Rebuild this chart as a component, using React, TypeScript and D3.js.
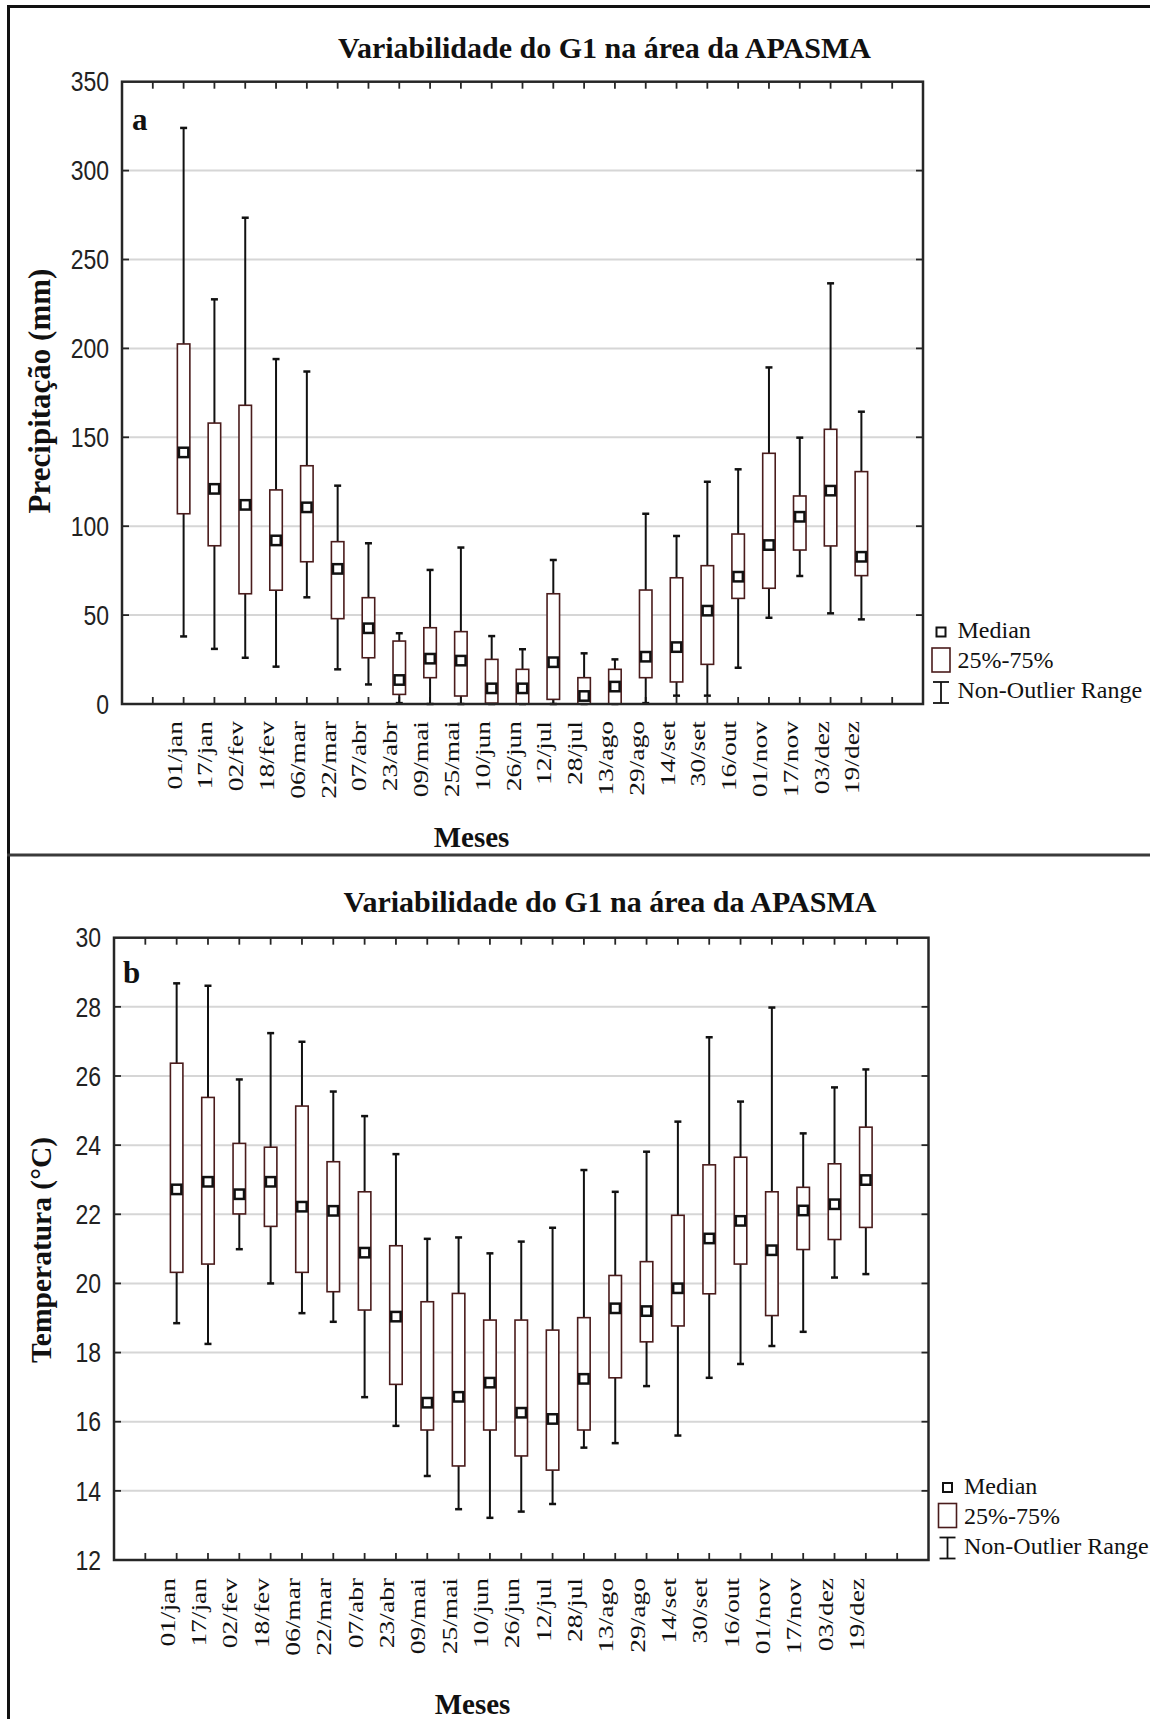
import React from "react";
import * as d3 from "d3";

const categories = ["01/jan","17/jan","02/fev","18/fev","06/mar","22/mar","07/abr","23/abr","09/mai","25/mai","10/jun","26/jun","12/jul","28/jul","13/ago","29/ago","14/set","30/set","16/out","01/nov","17/nov","03/dez","19/dez"];

// Panel a: precipitation (mm)
const precMin = [38, 31, 26, 21, 60, 19.5, 11, 0.5, 0, 0, 0, 0, 0, 0, 0, 0.5, 4.7, 4.7, 20.4, 48.5, 72, 51, 47.6];
const precQ1 = [107, 89, 62, 64, 80, 48, 26, 5.4, 14.8, 4.5, 0.5, 0, 2.6, 0, 0, 14.8, 12.4, 22.3, 59.4, 65.1, 86.6, 88.9, 72.2];
const precMedian = [141.5, 121, 112, 92, 110.6, 76, 42.6, 13.5, 25.5, 24.4, 8.8, 8.8, 23.5, 4.5, 9.8, 26.6, 32, 52.5, 71.6, 89.4, 105.3, 120, 82.8];
const precQ3 = [202.5, 158, 168, 120.4, 134, 91.3, 59.8, 35.4, 42.9, 40.7, 25.1, 19.5, 62, 14.8, 19.5, 64.1, 71, 77.8, 95.6, 141, 117, 154.5, 130.7];
const precMax = [324, 227.6, 273.5, 194, 187, 122.8, 90.4, 39.8, 75.4, 88, 38.2, 30.8, 81, 28.5, 25.1, 107, 94.5, 125, 132, 189.3, 149.8, 236.6, 164.4];
const precTicks = [0, 50, 100, 150, 200, 250, 300, 350];

// Panel b: temperature (°C)
const tempMin = [18.85, 18.25, 20.99, 20.0, 19.14, 18.89, 16.71, 15.88, 14.43, 13.47, 13.22, 13.4, 13.62, 15.25, 15.38, 17.03, 15.6, 17.27, 17.67, 18.19, 18.6, 20.17, 20.27];
const tempQ1 = [20.32, 20.56, 22.01, 21.65, 20.32, 19.76, 19.23, 17.08, 15.76, 14.72, 15.76, 15.01, 14.6, 15.76, 17.27, 18.31, 18.77, 19.7, 20.56, 19.07, 20.98, 21.27, 21.62];
const tempMedian = [22.72, 22.94, 22.58, 22.94, 22.22, 22.1, 20.89, 19.04, 16.55, 16.72, 17.13, 16.26, 16.08, 17.24, 19.28, 19.2, 19.86, 21.3, 21.81, 20.96, 22.11, 22.29, 22.99];
const tempQ3 = [26.37, 25.38, 24.05, 23.94, 25.13, 23.52, 22.65, 21.09, 19.47, 19.71, 18.94, 18.94, 18.65, 19.01, 20.23, 20.63, 21.97, 23.43, 23.65, 22.65, 22.78, 23.46, 24.52];
const tempMax = [28.68, 28.61, 25.9, 27.24, 26.99, 25.55, 24.84, 23.74, 21.29, 21.33, 20.87, 21.21, 21.61, 23.28, 22.65, 23.81, 24.68, 27.12, 25.26, 27.98, 24.34, 25.67, 26.19];
const tempTicks = [12, 14, 16, 18, 20, 22, 24, 26, 28, 30];

const titleText = "Variabilidade do G1 na área da APASMA";
const legendLabels = ["Median", "25%-75%", "Non-Outlier Range"];

const SERIF = "'Liberation Serif', 'Times New Roman', serif";
const SANS = "'Liberation Sans', Arial, sans-serif";
const BOX = "#4a1c1c";
const AXIS = "#262626";
const GRID = "#d6d6d6";

type PanelProps = {
  min: number[]; q1: number[]; med: number[]; q3: number[]; max: number[];
  ticks: number[];
  left: number; right: number; top: number; bottom: number;
  title: string; titleX: number; titleY: number;
  tag: string; tagX: number; tagY: number;
  yLabel: string; yLabelX: number; yLabelY: number; yLabelSize: number;
  xLabelX: number; xLabelY: number; catLabelTop: number;
  legX: number; legY: number;
};

function Panel(p: PanelProps) {
  const nSlots = categories.length + 3; // one empty slot each side plus edges
  const x = d3.scaleLinear().domain([0, nSlots]).range([p.left, p.right]);
  const y = d3.scaleLinear().domain([p.ticks[0], p.ticks[p.ticks.length - 1]]).range([p.bottom, p.top]);
  const slotTicks = d3.range(1, nSlots);
  const bw = 12.5;
  const cap = 3.5;
  const tk = 7;
  return (
    <g>
      <text x={p.titleX} y={p.titleY} textAnchor="middle" fontFamily={SERIF} fontWeight="bold" fontSize={30} fill="#111">{p.title}</text>
      {p.ticks.slice(1, -1).map((t) => (
        <line key={"g" + t} x1={p.left} x2={p.right} y1={y(t)} y2={y(t)} stroke={GRID} strokeWidth={2} />
      ))}
      {p.ticks.map((t) => (
        <text key={"yl" + t} transform={`translate(${p.left - 13},${y(t)}) scale(1,1.17)`} dy="0.36em" textAnchor="end" fontFamily={SANS} fontSize={23} fill="#222">{t}</text>
      ))}
      {slotTicks.map((k) => (
        <g key={"st" + k}>
          <line x1={x(k)} x2={x(k)} y1={p.bottom} y2={p.bottom - tk} stroke={AXIS} strokeWidth={1.8} />
          <line x1={x(k)} x2={x(k)} y1={p.top} y2={p.top + tk} stroke={AXIS} strokeWidth={1.8} />
        </g>
      ))}
      {p.ticks.slice(1, -1).map((t) => (
        <g key={"yt" + t}>
          <line x1={p.left} x2={p.left + tk} y1={y(t)} y2={y(t)} stroke={AXIS} strokeWidth={1.8} />
          <line x1={p.right} x2={p.right - tk} y1={y(t)} y2={y(t)} stroke={AXIS} strokeWidth={1.8} />
        </g>
      ))}
      {categories.map((c, i) => {
        const cx = x(i + 2);
        return (
          <g key={c}>
            <line x1={cx} x2={cx} y1={y(p.max[i])} y2={y(p.q3[i])} stroke="#111" strokeWidth={2} />
            <line x1={cx} x2={cx} y1={y(p.q1[i])} y2={y(p.min[i])} stroke="#111" strokeWidth={2} />
            <line x1={cx - cap} x2={cx + cap} y1={y(p.max[i])} y2={y(p.max[i])} stroke="#111" strokeWidth={2.5} />
            <line x1={cx - cap} x2={cx + cap} y1={y(p.min[i])} y2={y(p.min[i])} stroke="#111" strokeWidth={2.5} />
            <rect x={cx - bw / 2} y={y(p.q3[i])} width={bw} height={Math.max(0, y(p.q1[i]) - y(p.q3[i]))} fill="#fff" stroke={BOX} strokeWidth={1.6} />
            <rect x={cx - 4.7} y={y(p.med[i]) - 4.7} width={9.4} height={9.4} fill="#fff" stroke="#111" strokeWidth={2.5} />
          </g>
        );
      })}
      <rect x={p.left} y={p.top} width={p.right - p.left} height={p.bottom - p.top} fill="none" stroke={AXIS} strokeWidth={2.5} />
      <text x={p.tagX} y={p.tagY} fontFamily={SERIF} fontWeight="bold" fontSize={31} fill="#111">{p.tag}</text>
      {categories.map((c, i) => (
        <text key={"xl" + c} transform={`translate(${x(i + 2) - 2},${p.catLabelTop}) rotate(-90) scale(1.34,1)`} textAnchor="end" fontFamily={SERIF} fontSize={20.5} fill="#111">{c}</text>
      ))}
      <text x={p.xLabelX} y={p.xLabelY} textAnchor="middle" fontFamily={SERIF} fontWeight="bold" fontSize={29} fill="#111">Meses</text>
      <text transform={`translate(${p.yLabelX},${p.yLabelY}) rotate(-90)`} textAnchor="middle" fontFamily={SERIF} fontWeight="bold" fontSize={p.yLabelSize} fill="#111">{p.yLabel}</text>
      <g>
        <rect x={p.legX - 4.5} y={p.legY - 4.5} width={9} height={9} fill="#fff" stroke="#111" strokeWidth={2} />
        <rect x={p.legX - 9} y={p.legY + 16} width={18} height={24} fill="#fff" stroke={BOX} strokeWidth={1.6} />
        <line x1={p.legX} x2={p.legX} y1={p.legY + 50} y2={p.legY + 71} stroke="#111" strokeWidth={1.8} />
        <line x1={p.legX - 8} x2={p.legX + 8} y1={p.legY + 50} y2={p.legY + 50} stroke="#111" strokeWidth={1.8} />
        <line x1={p.legX - 8} x2={p.legX + 8} y1={p.legY + 71} y2={p.legY + 71} stroke="#111" strokeWidth={1.8} />
        {legendLabels.map((l, j) => (
          <text key={l} x={p.legX + 16.5} y={p.legY + 6 + j * 30} fontFamily={SERIF} fontSize={24} fill="#111">{l}</text>
        ))}
      </g>
    </g>
  );
}

export default function App() {
  return (
    <svg width={1150} height={1719} style={{ position: "absolute", left: 0, top: 0, background: "#fff" }}>
      <rect x={0} y={0} width={1150} height={1719} fill="#fff" />
      <Panel min={precMin} q1={precQ1} med={precMedian} q3={precQ3} max={precMax} ticks={precTicks}
        left={122} right={923} top={81.7} bottom={704}
        title={titleText} titleX={604.5} titleY={58}
        tag="a" tagX={132} tagY={130}
        yLabel="Precipitação (mm)" yLabelX={50} yLabelY={391} yLabelSize={31}
        xLabelX={471.5} xLabelY={846.5} catLabelTop={721}
        legX={941} legY={632} />
      <Panel min={tempMin} q1={tempQ1} med={tempMedian} q3={tempQ3} max={tempMax} ticks={tempTicks}
        left={114} right={928.5} top={937.7} bottom={1560}
        title={titleText} titleX={610} titleY={912}
        tag="b" tagX={123} tagY={983}
        yLabel="Temperatura (°C)" yLabelX={51} yLabelY={1250} yLabelSize={29.5}
        xLabelX={472.5} xLabelY={1714} catLabelTop={1578}
        legX={947.5} legY={1487.5} />
      <line x1={8.5} x2={8.5} y1={6.5} y2={1719} stroke="#111" strokeWidth={3} />
      <line x1={7} x2={1150} y1={6.5} y2={6.5} stroke="#111" strokeWidth={3} />
      <line x1={7} x2={1150} y1={855} y2={855} stroke="#3a3a3a" strokeWidth={3} />
    </svg>
  );
}
